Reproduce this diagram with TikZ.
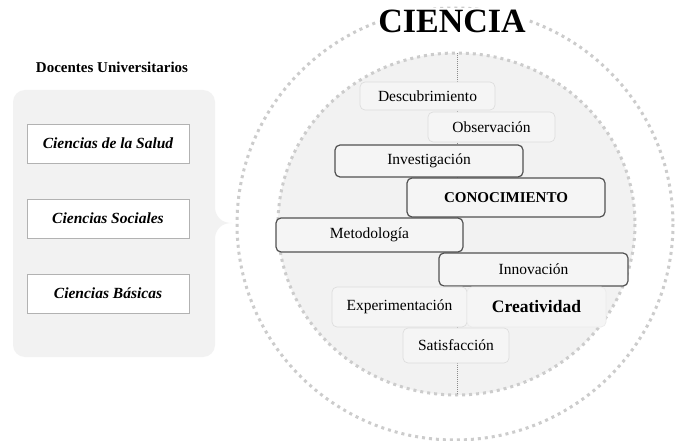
\documentclass[tikz,border=0pt]{standalone}
\usepackage{fontspec}
\setmainfont{Liberation Serif}
\begin{document}
\begin{tikzpicture}[x=1pt,y=-1pt,
  panelfill/.style={fill=black!5},
  dotring/.style={draw=black!20, line width=3pt, dash pattern=on 3pt off 4pt},
  lbox/.style={draw=black!13, line width=0.7pt, fill=black!4, rounded corners=5pt, inner sep=0pt, font=\fontsize{15.5}{17}\selectfont},
  dbox/.style={draw=black!68, line width=1.2pt, fill=black!4, rounded corners=5pt, inner sep=0pt, font=\fontsize{15.5}{17}\selectfont},
  sbox/.style={draw=black!30, line width=0.8pt, fill=white, inner sep=0pt, minimum width=162pt, minimum height=39pt, font=\fontsize{15.5}{17}\selectfont\bfseries\itshape},
  axis/.style={draw=black!45, line width=0.8pt, dash pattern=on 1pt off 1pt}
]
\useasboundingbox[fill=white] (0,0) rectangle (683,441);

% left panel with pointer
\path[panelfill, rounded corners=12pt] (13,90) rectangle (215,357);
\path[panelfill] (214,203) .. controls (215,218) and (222,223) .. (232,223)
  .. controls (222,223) and (215,228) .. (214,243) -- cycle;

\node[font=\fontsize{15}{17}\selectfont\bfseries] (doc) at (112,67) {Docentes Universitarios};
\node[sbox] (salud) at (108,143.5) {Ciencias de la Salud};
\node[sbox] (soc) at (108,218.5) {Ciencias Sociales};
\node[sbox] (bas) at (108,293.5) {Ciencias Básicas};

% circles
\path[dotring] (455,224) ellipse[x radius=218, y radius=216];
\path[fill=black!5] (456.5,224) ellipse[x radius=178.5, y radius=171];
\path[dotring] (456.5,224) ellipse[x radius=178.5, y radius=171];

% title
\node[fill=white, inner sep=2pt, font=\fontsize{34}{36}\selectfont\bfseries] (cien) at (452,21) {CIENCIA};

% axis
\coordinate (atop) at (457,53);
\coordinate (abot) at (457,395);
\draw[axis] (atop) -- (abot);

% boxes
\node[lbox, minimum width=135pt, minimum height=28pt] (desc) at (427.5,96) {Descubrimiento};
\node[lbox, minimum width=127pt, minimum height=30pt] (obs) at (491.5,127) {Observación};
\node[dbox, minimum width=188pt, minimum height=32pt] (inv) at (429,161) {Investigación};
\node[dbox, minimum width=198pt, minimum height=39pt, font=\fontsize{15}{17}\selectfont\bfseries] (con) at (506,197.5) {CONOCIMIENTO};
\node[dbox, minimum width=187pt, minimum height=34pt] (met) at (369.5,235) {Metodología};
\node[dbox, minimum width=189pt, minimum height=33pt] (inn) at (533.5,269.5) {Innovación};
\node[lbox, minimum width=135pt, minimum height=40pt] (exp) at (399.5,307) {Experimentación};
\node[lbox, draw=black!8, minimum width=139pt, minimum height=40pt, font=\fontsize{17.5}{19}\selectfont\bfseries] (cre) at (536.5,307) {Creatividad};
\node[lbox, minimum width=106pt, minimum height=35pt] (sat) at (456,345.5) {Satisfacción};
\end{tikzpicture}
\end{document}
